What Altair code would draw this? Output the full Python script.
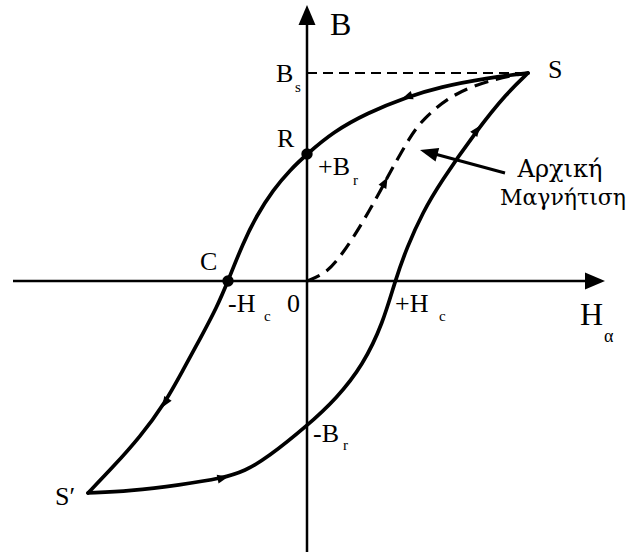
import math
import altair as alt
import pandas as pd

# Hysteresis loop, in arbitrary units of field strength H and flux density B.
# Descending branch: S -> R (+Br) -> C (-Hc) -> S'
down_H = [221, 180, 133, 100, 60, 26, 0, -17, -34, -50, -64, -79, -90, -107, -124, -142, -167, -194, -219]
down_B = [208, 203, 194, 184, 168, 149, 127, 111, 91, 66, 38, 0, -26, -58, -89, -122, -156, -186, -212]
# Ascending branch: S' -> -Br -> +Hc -> S
up_H = [-219, -177, -127, -84, -62, -40, 0, 30, 56, 76, 88, 100, 116, 133, 170, 200, 221]
up_B = [-212, -210, -204, -197, -190, -177, -145, -117, -84, -42, 0, 34, 69, 98, 151, 188, 208]
# Initial magnetisation curve: O -> S
init_H = [0, 20, 36, 53, 70, 78, 86, 103, 115, 146, 190, 221]
init_B = [0, 8, 28, 54, 84, 99, 114, 144, 161, 188, 203, 208]

# Points along each branch where a direction arrow is drawn
down_marks = [3, 15]
up_marks = [3, 14]
init_marks = [5]

# Marked points R (remanence) and C (coercivity)
pts_H = [0, -79]
pts_B = [127, 0]

# Extents of the drawn axes: start, end of line, arrow tip
h_axis = (-294, 284, 298)
b_axis = (-271, 256, 276)
Bs = 208
Hs = 221

# Pointer from the caption to the initial curve
note_tail = (198, 108)
note_tip = (113, 131)

X_DOM = [-307, 322]
Y_DOM = [-275, 281]
W, H = 629, 556
FONT = "Liberation Serif"
GREEK_FONT = "DejaVu Serif"

xs = alt.Scale(domain=X_DOM, nice=False, zero=False)
ys = alt.Scale(domain=Y_DOM, nice=False, zero=False)


def X(f="x"):
    return alt.X(f"{f}:Q", scale=xs, axis=None)


def Y(f="y"):
    return alt.Y(f"{f}:Q", scale=ys, axis=None)


def curve(hs, bs, name):
    return pd.DataFrame({"x": hs, "y": bs, "c": name})


loop = pd.concat([curve(down_H, down_B, "down"), curve(up_H, up_B, "up")])
initial = curve(init_H, init_B, "init")

loop_layer = alt.Chart(loop).mark_line(
    color="black", strokeWidth=3.7, interpolate="basis", strokeCap="round"
).encode(x=X(), y=Y(), detail="c:N", order="x:Q")

init_layer = alt.Chart(initial).mark_line(
    color="black", strokeWidth=3.2, interpolate="basis", strokeDash=[14, 8]
).encode(x=X(), y=Y(), order="x:Q")


def heading(hs, bs, i):
    dx = hs[i + 1] - hs[i - 1]
    dy = bs[i + 1] - bs[i - 1]
    return math.degrees(math.atan2(dx, dy)) % 360


marks = []
for hs, bs, idx in [(down_H, down_B, down_marks), (up_H, up_B, up_marks), (init_H, init_B, init_marks)]:
    for i in idx:
        marks.append({"x": hs[i], "y": bs[i], "a": heading(hs, bs, i)})
marks = pd.DataFrame(marks)

arrow_small = "M0,-1L0.8,1L-0.8,1Z"
arrow_big = "M0,-1L0.85,1L-0.85,1Z"

dir_layer = alt.Chart(marks).mark_point(
    shape=arrow_small, filled=True, color="black", size=120, opacity=1
).encode(x=X(), y=Y(), angle=alt.Angle("a:Q", scale=None))

# Axes as lines with arrowheads
axes = pd.DataFrame({
    "x": [h_axis[0], 0], "x2": [h_axis[1], 0],
    "y": [0, b_axis[0]], "y2": [0, b_axis[1]],
})
axis_layer = alt.Chart(axes).mark_rule(color="black", strokeWidth=2.5).encode(
    x=X(), x2="x2:Q", y=Y(), y2="y2:Q"
)

# Arrowhead centres sit half a head-length behind the tip
head_len = 20
heads = pd.DataFrame({
    "x": [h_axis[2] - head_len / 2, 0],
    "y": [0, b_axis[2] - head_len / 2],
    "a": [90, 0],
})
head_layer = alt.Chart(heads).mark_point(
    shape=arrow_big, filled=True, color="black", size=head_len ** 2, opacity=1
).encode(x=X(), y=Y(), angle=alt.Angle("a:Q", scale=None))

# Saturation level guide
bs_line = pd.DataFrame({"x": [0], "x2": [Hs], "y": [Bs]})
bs_layer = alt.Chart(bs_line).mark_rule(
    color="black", strokeWidth=2.2, strokeDash=[10, 6]
).encode(x=X(), x2="x2:Q", y=Y())

# Caption pointer
note_len = 18
ddx = note_tip[0] - note_tail[0]
ddy = note_tip[1] - note_tail[1]
nrm = math.hypot(ddx, ddy)
ux, uy = ddx / nrm, ddy / nrm
note_line = pd.DataFrame({
    "x": [note_tail[0]], "y": [note_tail[1]],
    "x2": [note_tip[0] - ux * note_len * 0.8], "y2": [note_tip[1] - uy * note_len * 0.8],
})
note_layer = alt.Chart(note_line).mark_rule(color="black", strokeWidth=3).encode(
    x=X(), y=Y(), x2="x2:Q", y2="y2:Q"
)
note_head = pd.DataFrame({
    "x": [note_tip[0] - ux * note_len / 2], "y": [note_tip[1] - uy * note_len / 2],
    "a": [math.degrees(math.atan2(ddx, ddy)) % 360],
})
note_head_layer = alt.Chart(note_head).mark_point(
    shape="M0,-1L0.78,1L-0.78,1Z", filled=True, color="black", size=note_len ** 2, opacity=1
).encode(x=X(), y=Y(), angle=alt.Angle("a:Q", scale=None))

# R and C dots
dots = pd.DataFrame({"x": pts_H, "y": pts_B})
dot_layer = alt.Chart(dots).mark_circle(color="black", size=130, opacity=1).encode(x=X(), y=Y())

# Labels (left-aligned, at their baselines) and their subscripts
labels = pd.DataFrame([
    {"t": "B", "x": 23, "y": 246, "s": 32},
    {"t": "B", "x": -31, "y": 199, "s": 26},
    {"t": "s", "x": -12, "y": 189, "s": 15},
    {"t": "S", "x": 241, "y": 203, "s": 26},
    {"t": "R", "x": -30, "y": 134, "s": 26},
    {"t": "+B", "x": 11, "y": 106, "s": 26},
    {"t": "r", "x": 46, "y": 96, "s": 15},
    {"t": "C", "x": -107, "y": 11, "s": 26},
    {"t": "-H", "x": -79, "y": -31, "s": 26},
    {"t": "c", "x": -43, "y": -40, "s": 15},
    {"t": "0", "x": -20, "y": -31, "s": 26},
    {"t": "+H", "x": 88, "y": -31, "s": 26},
    {"t": "c", "x": 132, "y": -40, "s": 15},
    {"t": "H", "x": 273, "y": -44, "s": 32},
    {"t": "α", "x": 297, "y": -61, "s": 18},
    {"t": "-B", "x": 6, "y": -161, "s": 26},
    {"t": "r", "x": 36, "y": -169, "s": 15},
    {"t": "S′", "x": -252, "y": -224, "s": 26},
])
label_layer = alt.Chart(labels).mark_text(
    align="left", baseline="alphabetic", font=FONT, color="black"
).encode(x=X(), y=Y(), text="t:N", size=alt.Size("s:Q", scale=None))

caption = pd.DataFrame([
    {"t": "Αρχική", "x": 253, "y": 104, "s": 24},
    {"t": "Μαγνήτιση", "x": 256, "y": 76, "s": 22},
])
caption_layer = alt.Chart(caption).mark_text(
    align="center", baseline="alphabetic", font=GREEK_FONT, color="black"
).encode(x=X(), y=Y(), text="t:N", size=alt.Size("s:Q", scale=None))

chart = alt.layer(
    axis_layer, head_layer, bs_layer, init_layer, loop_layer, dir_layer,
    note_layer, note_head_layer, dot_layer, label_layer, caption_layer,
).properties(
    width=W, height=H, padding=0, autosize=alt.AutoSizeParams(type="none"),
    background="white",
).configure_view(stroke=None)

chart.save("out.html", embed_options={"renderer": "svg", "actions": False})
